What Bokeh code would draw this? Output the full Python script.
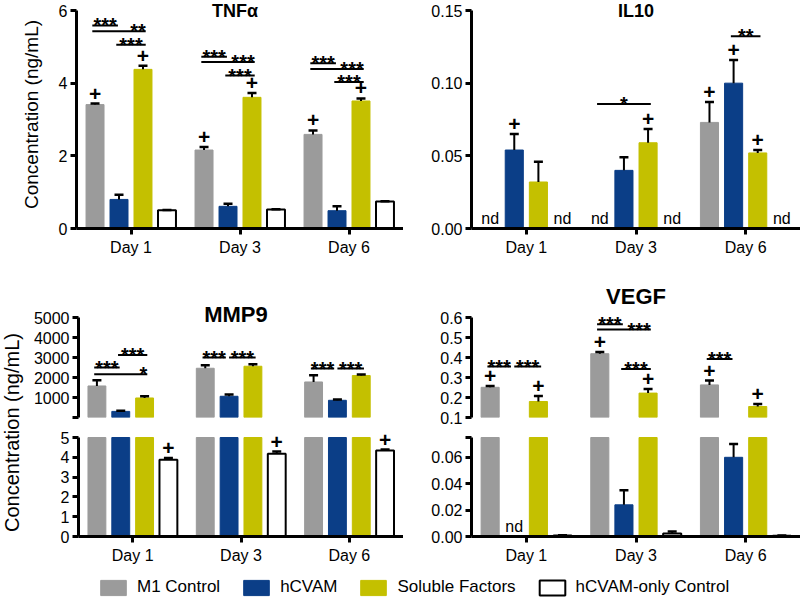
import math
from bokeh.plotting import figure
from bokeh.models import (ColumnDataSource, Range1d, FactorRange, FixedTicker, LabelSet, Label,
                          Legend, LegendItem)
from bokeh.layouts import row, column
from bokeh.transform import dodge
from bokeh.core.properties import value
from bokeh.embed import file_html
from bokeh.resources import INLINE

NAN = float("nan")
DAYS = ["Day 1", "Day 3", "Day 6"]
GROUPS = ["M1 Control", "hCVAM", "Soluble Factors", "hCVAM-only Control"]

# ---- TNF-alpha (ng/mL): mean and SEM per group
TNF_M1 = [3.41, 2.16, 2.59]
TNF_M1_SEM = [0.03, 0.08, 0.11]
TNF_HCVAM = [0.80, 0.61, 0.49]
TNF_HCVAM_SEM = [0.13, 0.07, 0.12]
TNF_SF = [4.38, 3.61, 3.51]
TNF_SF_SEM = [0.10, 0.12, 0.07]
TNF_ONLY = [0.50, 0.52, 0.74]
TNF_ONLY_SEM = [0.01, 0.01, 0.01]

# ---- IL10 (ng/mL); NaN = not detected
IL10_M1 = [NAN, NAN, 0.073]
IL10_M1_SEM = [NAN, NAN, 0.014]
IL10_HCVAM = [0.054, 0.040, 0.100]
IL10_HCVAM_SEM = [0.011, 0.009, 0.016]
IL10_SF = [0.032, 0.059, 0.052]
IL10_SF_SEM = [0.014, 0.0095, 0.002]
IL10_ONLY = [NAN, NAN, NAN]
IL10_ONLY_SEM = [NAN, NAN, NAN]

# ---- MMP9 (ng/mL)
MMP9_M1 = [1580, 2465, 1780]
MMP9_M1_SEM = [285, 155, 335]
MMP9_HCVAM = [310, 1065, 865]
MMP9_HCVAM_SEM = [35, 85, 35]
MMP9_SF = [980, 2565, 2100]
MMP9_SF_SEM = [85, 100, 50]
MMP9_ONLY = [3.87, 4.18, 4.34]
MMP9_ONLY_SEM = [0.10, 0.11, 0.05]

# ---- VEGF (ng/mL)
VEGF_M1 = [0.251, 0.419, 0.263]
VEGF_M1_SEM = [0.007, 0.008, 0.022]
VEGF_HCVAM = [NAN, 0.024, 0.060]
VEGF_HCVAM_SEM = [NAN, 0.011, 0.010]
VEGF_SF = [0.180, 0.222, 0.155]
VEGF_SF_SEM = [0.027, 0.021, 0.012]
VEGF_ONLY = [0.0008, 0.0022, 0.0006]
VEGF_ONLY_SEM = [0.0002, 0.0016, 0.0002]

# '+' marks: (day index, group index)
TNF_PLUS = [(0, 0), (0, 2), (1, 0), (1, 2), (2, 0), (2, 2)]
IL10_PLUS = [(0, 1), (1, 2), (2, 0), (2, 1), (2, 2)]
MMP9_PLUS = [(0, 3), (1, 3), (2, 3)]
VEGF_PLUS = [(0, 0), (0, 2), (1, 0), (1, 2), (2, 0), (2, 2)]

# significance: (day index, group a, group b, bracket level, stars, label side)
TNF_SIG = [(0, 0, 1, 5.59, "***", "c"), (0, 0, 2, 5.43, "**", "r"), (0, 1, 2, 5.06, "***", "c"),
           (1, 0, 1, 4.73, "***", "c"), (1, 0, 2, 4.58, "***", "r"), (1, 1, 2, 4.21, "***", "c"),
           (2, 0, 1, 4.55, "***", "c"), (2, 0, 2, 4.39, "***", "r"), (2, 1, 2, 4.03, "***", "c")]
IL10_SIG = [(1, 0, 2, 0.0856, "*", "c"), (2, 1, 2, 0.1323, "**", "c")]
MMP9_SIG = [(0, 1, 2, 3130, "***", "c"), (0, 0, 1, 2500, "***", "c"), (0, 0, 2, 2165, "*", "r"),
            (1, 0, 1, 3000, "***", "c"), (1, 1, 2, 3000, "***", "c"),
            (2, 0, 1, 2450, "***", "c"), (2, 1, 2, 2450, "***", "c")]
VEGF_SIG = [(0, 0, 1, 0.355, "***", "c"), (0, 1, 2, 0.355, "***", "c"),
            (1, 0, 1, 0.566, "***", "c"), (1, 0, 2, 0.540, "***", "r"), (1, 1, 2, 0.343, "***", "c"),
            (2, 0, 1, 0.392, "***", "c")]

# not detected: (day index, group index)
IL10_ND = [(0, 0), (0, 3), (1, 0), (1, 3), (2, 3)]
VEGF_ND = [(0, 1)]

# ---- styles
FONT = "Liberation Sans"
COLORS = ["#9b9b9b", "#0b3e87", "#c4c000", "#ffffff"]
OFF = [-0.33, -0.11, 0.11, 0.33]
BW = 0.165


def make_panel(width, height, left, top, bottom, lo, hi, axis_px, head_px, ticks, labels,
               means, sems, plus, sig, nd, x_axis=True, ylabel=None, title=None,
               title_size="18px", title_dy=0, title_dx=0):
    y_end = hi + (hi - lo) * head_px / axis_px
    p = figure(width=width, height=height, x_range=FactorRange(factors=DAYS),
               y_range=Range1d(lo, y_end), toolbar_location=None, output_backend="svg",
               min_border_left=left, min_border_right=0, min_border_top=top,
               min_border_bottom=bottom, x_axis_location="below" if x_axis else None,
               outline_line_color=None)
    p.grid.visible = False
    ya = p.yaxis[0]
    ya.bounds = (lo, hi)
    ya.ticker = FixedTicker(ticks=ticks)
    ya.major_label_overrides = {t: l for t, l in zip(ticks, labels)}
    ya.axis_line_width = 3
    ya.major_tick_line_width = 3
    ya.major_tick_out = 6
    ya.major_tick_in = 0
    ya.minor_tick_line_color = None
    ya.major_label_text_font = FONT
    ya.major_label_text_font_size = "16px"
    ya.major_label_text_color = "black"
    ya.major_label_standoff = 3
    if ylabel:
        ya.axis_label = ylabel
        ya.axis_label_text_font = FONT
        ya.axis_label_text_font_size = "19px"
        ya.axis_label_text_font_style = "normal"
        ya.axis_label_text_color = "black"
        ya.axis_label_standoff = 14
    if x_axis:
        xa = p.xaxis[0]
        xa.axis_line_width = 3
        xa.major_tick_line_width = 3
        xa.major_tick_out = 6
        xa.major_tick_in = 0
        xa.major_label_text_font = FONT
        xa.major_label_text_font_size = "16px"
        xa.major_label_text_color = "black"
        xa.major_label_standoff = 4

    for k in range(4):
        # broken axis: a bar below this segment is not drawn here; a bar running past
        # its top stops at the top, without error bar
        tops = [NAN if m < lo else (hi if m > hi else m) for m in means[k]]
        base = [NAN if (m < lo or m > hi) else m for m in means[k]]
        err = [m + s for m, s in zip(base, sems[k])]
        src = ColumnDataSource(dict(day=DAYS, top=tops, base=base, err=err))
        x = dodge("day", OFF[k], range=p.x_range)
        p.vbar(x=x, top="top", bottom=0, width=BW, source=src, fill_color=COLORS[k],
               line_color="black" if k == 3 else COLORS[k], line_width=2 if k == 3 else 1)
        p.segment(x0=x, y0="base", x1=x, y1="err", source=src, line_color="black", line_width=2)
        p.scatter(x=x, y="err", source=src, marker="dash", size=9, line_color="black",
                  line_width=2.5)
        full_err = [m + s for m, s in zip(means[k], sems[k])]
        rows = [(DAYS[d], full_err[d]) for d, g in plus if g == k and lo <= full_err[d] <= hi]
        if rows:
            ps = ColumnDataSource(dict(day=[r[0] for r in rows], y=[r[1] for r in rows],
                                       t=["+"] * len(rows)))
            p.add_layout(LabelSet(x=x, y="y", text="t", source=ps, y_offset=10,
                                  text_align="center", text_baseline="middle",
                                  text_font=value(FONT), text_font_size="21px",
                                  text_font_style="bold", text_color="black"))
        nrows = [DAYS[d] for d, g in nd if g == k]
        if nrows:
            ns = ColumnDataSource(dict(day=nrows, y=[lo] * len(nrows), t=["nd"] * len(nrows)))
            p.add_layout(LabelSet(x=x, y="y", text="t", source=ns, y_offset=5,
                                  text_align="center", text_baseline="alphabetic",
                                  text_font=value(FONT), text_font_size="16px",
                                  text_color="black"))

    for (d, a, b, yv, txt, side) in sig:
        x0 = OFF[a] - 0.025
        x1 = OFF[b] - 0.01 if b == 1 else OFF[b] + 0.025
        for (d2, a2, b2, y2, _, _) in sig:
            if d2 == d and y2 == yv:
                if b2 == a:
                    x0 = OFF[a]
                if a2 == b:
                    x1 = OFF[b] - 0.03
        ss = ColumnDataSource(dict(day=[DAYS[d]], y=[yv], t=[txt]))
        p.segment(x0=dodge("day", x0, range=p.x_range), y0="y",
                  x1=dodge("day", x1, range=p.x_range), y1="y", source=ss,
                  line_color="black", line_width=2)
        xl = (x0 + x1) / 2 if side == "c" else x1
        p.add_layout(LabelSet(x=dodge("day", xl, range=p.x_range), y="y", text="t", source=ss,
                              y_offset=-7, text_align="center" if side == "c" else "right",
                              text_baseline="alphabetic", text_font=value(FONT),
                              text_font_size="20px", text_font_style="bold",
                              text_color="black"))
    if title:
        p.add_layout(Label(x=1.5, y=hi, text=title, text_align="center", text_baseline="middle",
                           y_offset=title_dy, x_offset=title_dx, text_font=FONT,
                           text_font_size=title_size, text_font_style="bold",
                           text_color="black"))
    return p


tnf = make_panel(403, 285, 76, 0, 57, 0, 6, 218, 10, [0, 2, 4, 6], ["0", "2", "4", "6"],
                 [TNF_M1, TNF_HCVAM, TNF_SF, TNF_ONLY],
                 [TNF_M1_SEM, TNF_HCVAM_SEM, TNF_SF_SEM, TNF_ONLY_SEM],
                 TNF_PLUS, TNF_SIG, [], ylabel="Concentration (ng/mL)", title="TNF\u03b1",
                 title_dx=-5)
il10 = make_panel(397, 285, 68, 0, 57, 0, 0.15, 218, 10, [0, 0.05, 0.1, 0.15],
                  ["0.00", "0.05", "0.10", "0.15"],
                  [IL10_M1, IL10_HCVAM, IL10_SF, IL10_ONLY],
                  [IL10_M1_SEM, IL10_HCVAM_SEM, IL10_SF_SEM, IL10_ONLY_SEM],
                  IL10_PLUS, IL10_SIG, IL10_ND, title="IL10")

MM = [MMP9_M1, MMP9_HCVAM, MMP9_SF, MMP9_ONLY]
MS = [MMP9_M1_SEM, MMP9_HCVAM_SEM, MMP9_SF_SEM, MMP9_ONLY_SEM]
mmp_up = make_panel(377, 142, 52, 0, 10, 5, 5000, 100, 32, [5, 1000, 2000, 3000, 4000, 5000],
                    ["", "1000", "2000", "3000", "4000", "5000"], MM, MS, MMP9_PLUS, MMP9_SIG, [],
                    x_axis=False, title="MMP9", title_size="22px", title_dy=3, title_dx=-5)
mmp_lo = make_panel(377, 141, 52, 0, 32, 0, 5, 99, 10, [0, 1, 2, 3, 4, 5],
                    ["0", "1", "2", "3", "4", "5"], MM, MS, MMP9_PLUS, [], [])

VM = [VEGF_M1, VEGF_HCVAM, VEGF_SF, VEGF_ONLY]
VS = [VEGF_M1_SEM, VEGF_HCVAM_SEM, VEGF_SF_SEM, VEGF_ONLY_SEM]
veg_up = make_panel(397, 142, 68, 0, 10, 0.1, 0.6, 100, 32, [0.1, 0.2, 0.3, 0.4, 0.5, 0.6],
                    ["0.1", "0.2", "0.3", "0.4", "0.5", "0.6"], VM, VS, VEGF_PLUS, VEGF_SIG, [],
                    x_axis=False, title="VEGF", title_size="22px", title_dy=21)
veg_lo = make_panel(397, 141, 68, 0, 32, 0, 0.075, 99, 10, [0, 0.02, 0.04, 0.06, 0.075],
                    ["0.00", "0.02", "0.04", "0.06", ""], VM, VS, VEGF_PLUS, [], VEGF_ND)

lab = figure(width=26, height=283, x_range=Range1d(0, 26), y_range=Range1d(0, 283),
             toolbar_location=None, output_backend="svg", min_border=0,
             x_axis_location=None, y_axis_location=None, outline_line_color=None)
lab.grid.visible = False
lab.add_layout(Label(x=11, y=136, text="Concentration (ng/mL)", angle=90, angle_units="deg",
                     text_align="center", text_baseline="middle", text_font=FONT,
                     text_font_size="20px", text_color="black"))

leg = figure(width=800, height=30, x_range=Range1d(0, 1), y_range=Range1d(0, 1),
             toolbar_location=None, output_backend="svg", min_border=0,
             x_axis_location=None, y_axis_location=None, outline_line_color=None)
leg.grid.visible = False
items = []
for k, g in enumerate(GROUPS):
    # swatch-only renderer: a single undefined (NaN) row, so nothing is drawn in the frame
    r = leg.vbar(x=[NAN], top=[NAN], width=0.1, fill_color=COLORS[k],
                 line_color="black" if k == 3 else COLORS[k], line_width=2 if k == 3 else 1)
    items.append(LegendItem(label=g, renderers=[r]))
legend = Legend(items=items, orientation="horizontal", location=(97, 1), glyph_width=32,
                glyph_height=19, label_standoff=8, spacing=20, padding=0, margin=0,
                border_line_color=None, background_fill_alpha=0, label_text_font=FONT,
                label_text_font_size="17px", label_height=19, label_text_color="black")
leg.add_layout(legend)

layout = column(
    row(tnf, il10),
    row(lab, column(mmp_up, mmp_lo), column(veg_up, veg_lo)),
    leg,
)

open("out.html", "w").write(file_html(layout, INLINE))
